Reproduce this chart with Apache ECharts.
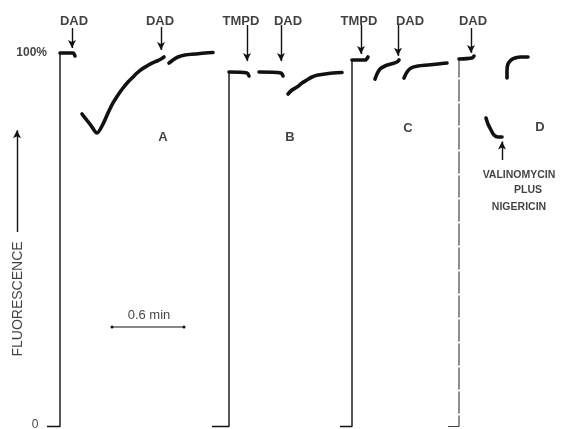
<!DOCTYPE html>
<html><head><meta charset="utf-8">
<script src="https://cdn.jsdelivr.net/npm/echarts@6/dist/echarts.min.js"></script>
<style>html,body{margin:0;padding:0;background:#fff}#c{width:584px;height:429px}</style>
</head><body><div id="c"></div>
<script>
// x: time in seconds (scale bar 0.6 min = 36 s); y: fluorescence in % of the initial level
// Trace A
const A_base = [[-6.5,0],[0,0],[0,99.87]];
const A_top = [[0,99.87],[6.5,99.87],[7.5,99.06]];
const A_dip = [[11,83.56],[12.5,82.49],[15,80.88],[18.5,78.48],[21.5,80.88],[24,83.82],[26.5,86.5],[29,88.64],[31.5,90.51],[34,92.11],[36,93.18],[38.5,94.52],[41,95.59],[43.5,96.39],[46,97.19],[48.5,97.73],[50.5,98.26],[52,98.8]];
const A_after = [[54.5,97.19],[56.5,97.99],[59,98.8],[62.5,99.33],[67.5,99.6],[72.5,99.87],[76.5,100]];
// Trace B
const B_base = [[76,0],[84.5,0],[84.5,94.79]];
const B_top = [[84.5,94.79],[93.5,94.52],[94.5,93.72]];
const B_mid = [[99.5,94.79],[110.5,94.52],[111.5,93.72]];
const B_after = [[114,88.9],[116,89.97],[118.5,90.78],[121,91.84],[123.5,92.65],[126,93.45],[129,93.98],[132.5,94.25],[136.5,94.52],[141,94.65]];
// Trace C
const C_base = [[140,0],[146,0],[146,97.99]];
const C_top = [[146,97.99],[152.5,97.99],[154,98.8]];
const C_mid = [[157.5,92.91],[158.5,94.25],[160,95.59],[162.5,96.39],[165.5,96.93],[168.5,97.46],[169.5,97.99]];
const C_after = [[172,93.18],[173.5,94.79],[175.5,95.86],[179,96.39],[184,96.66],[189,96.93],[193.5,97.19]];
// Trace D
const D_base = [[194,0],[199.5,0],[199.5,98.26]];
const D_top = [[199.5,98.26],[206,98.53],[207,99.06]];
const D_dip = [[213,82.49],[214,80.88],[215.5,79.28],[217,77.94],[219,77.41],[221,77.41]];
const D_after = [[223.5,93.18],[223.5,95.32],[224,96.93],[225.5,97.99],[227.5,98.53],[230.5,98.8],[234,98.8]];

// Additions (arrows): time, tail level, head level
const addNames = ['DAD','DAD','TMPD','DAD','TMPD','DAD','DAD'];
const addTime = [6,50.5,93.5,110.5,150.5,169,205.5];
const addTail = [106.55,106.8,107.35,107.35,107.35,107.35,106.55];
const addHead = [101.2,100.7,97.7,97.7,99.6,99.1,99.9];
const addLabelTime = [7,50,90.5,114,149.5,175,206.5];
const addLabelLevel = 108.4;

// Trace letters
const traceNames = ['A','B','C','D'];
const traceLabelPos = [[51.5,77.41],[115,77.41],[174,79.81],[240,80.08]];

// Scale bar (0.6 min)
const scaleBar = [[26,26.6],[62,26.6]];

const thin = {type:'line', symbol:'none', silent:true, animation:false, clip:false,
  lineStyle:{color:'#111', width:1.4}};
const thick = {type:'line', symbol:'none', silent:true, animation:false, clip:false, smooth:0.3,
  lineStyle:{color:'#111', width:3.6, cap:'round', join:'round'}};

const series = [];
[A_base,B_base,C_base].forEach(d=>series.push(Object.assign({}, thin, {data:d})));
series.push(Object.assign({}, thin, {data:D_base, lineStyle:{color:'#444', width:1.2, type:[22,2]}}));
[A_top,A_dip,A_after,B_top,B_mid,B_after,C_top,C_mid,C_after,D_top,D_dip,D_after]
  .forEach(d=>series.push(Object.assign({}, thick, {data:d})));

// arrows
const arrowLines = addTime.map((t,i)=>[{coord:[t,addTail[i]]},{coord:[t,addHead[i]]}]);
arrowLines.push([{coord:[221,71.26]},{coord:[221,76.2]}]);   // valinomycin + nigericin addition
arrowLines.push([{coord:[-21.5,52.0]},{coord:[-21.5,79.2]}]); // fluorescence axis arrow
series.push({type:'line', data:[], silent:true, animation:false,
  markLine:{silent:true, animation:false, symbol:['none','arrow'], symbolSize:[6,8],
    label:{show:false}, lineStyle:{color:'#111', width:1.4, type:'solid'}, data:arrowLines}});

// scale bar
series.push({type:'line', data:scaleBar, silent:true, animation:false, symbol:'circle', symbolSize:3,
  itemStyle:{color:'#111'}, lineStyle:{color:'#111', width:1.2}});

const font = "'Liberation Sans', Arial, sans-serif";
const txt = (pos, text, extra) => ({value:pos, label:Object.assign({show:true, formatter:text, color:'#111',
  fontFamily:font, fontSize:13, fontWeight:'bold', position:'inside', align:'center', verticalAlign:'middle'}, extra||{})});

const labels = [];
addNames.forEach((n,i)=>labels.push(txt([addLabelTime[i], addLabelLevel], n)));
traceNames.forEach((n,i)=>labels.push(txt(traceLabelPos[i], n)));
labels.push(txt([-6.5,99.87], '100%', {align:'right', fontSize:12}));
labels.push(txt([-12.5,0.5], '0', {fontSize:12, fontWeight:'normal'}));
labels.push(txt([-21,34.1], 'FLUORESCENCE', {rotate:90, fontSize:14, fontWeight:'normal'}));
labels.push(txt([229.5,67.25], 'VALINOMYCIN', {fontSize:10.5}));
labels.push(txt([234,63.24], 'PLUS', {fontSize:10.5}));
labels.push(txt([229.5,58.69], 'NIGERICIN', {fontSize:10.5}));
labels.push(txt([44.5,29.81], '0.6 min', {fontSize:13, fontWeight:'normal'}));

series.push({type:'scatter', data:labels, symbolSize:0, silent:true, animation:false, clip:false});

const chart = echarts.init(document.getElementById('c'), null, {renderer:'canvas'});
chart.setOption({
  backgroundColor:'#fff',
  animation:false,
  grid:{left:0, right:0, top:0, bottom:0},
  xAxis:{type:'value', min:-30, max:262, show:false},
  yAxis:{type:'value', min:-0.668, max:114.04, show:false},
  series: series
});
</script></body></html>
